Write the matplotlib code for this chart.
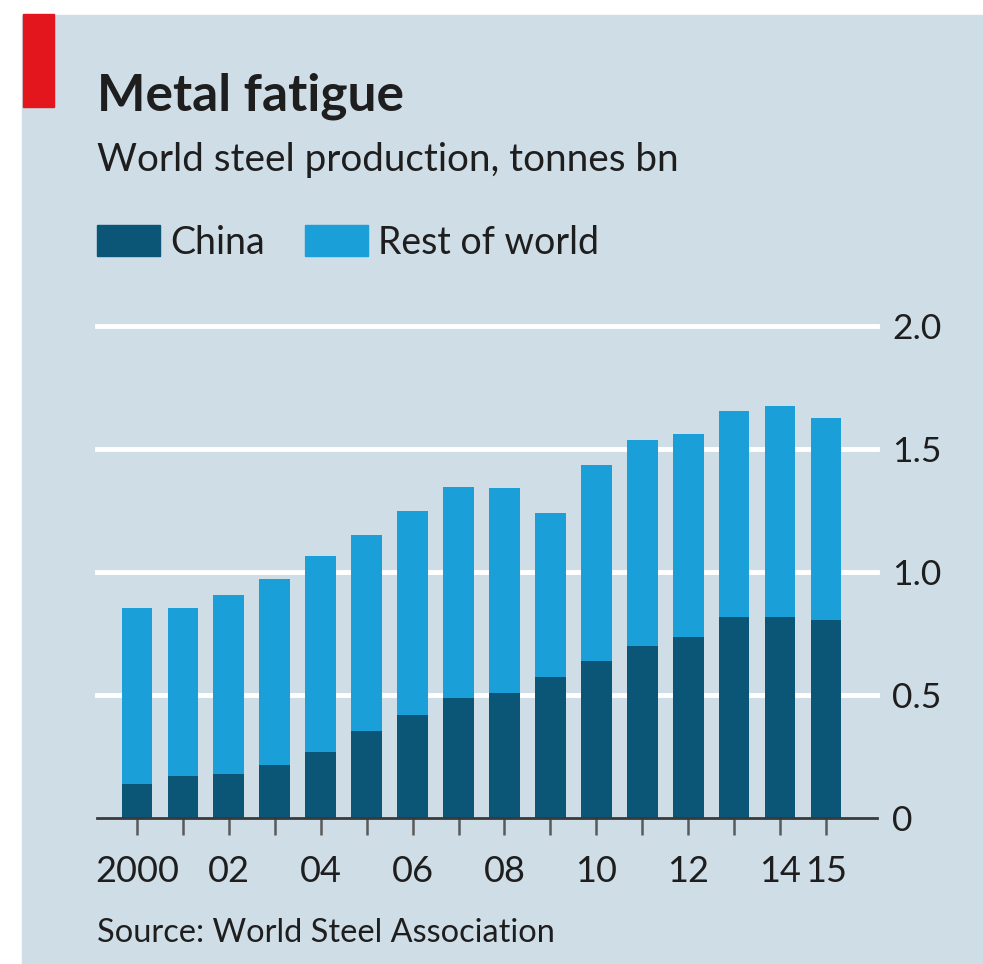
import matplotlib
matplotlib.use("Agg")
import matplotlib.pyplot as plt
from matplotlib.patches import Rectangle

# World steel production, tonnes bn
years = list(range(2000, 2016))
china = [0.138, 0.171, 0.179, 0.215, 0.268, 0.354, 0.419, 0.488,
         0.508, 0.573, 0.638, 0.699, 0.736, 0.817, 0.817, 0.805]
world = [0.854, 0.854, 0.907, 0.972, 1.065, 1.150, 1.248, 1.346,
         1.341, 1.240, 1.435, 1.537, 1.561, 1.654, 1.675, 1.626]
rest = [w - c for w, c in zip(world, china)]
year_labels = {2000: "2000", 2002: "02", 2004: "04", 2006: "06", 2008: "08",
               2010: "10", 2012: "12", 2014: "14", 2015: "15"}
yticks = [0, 0.5, 1.0, 1.5, 2.0]
ytick_labels = ["0", "0.5", "1.0", "1.5", "2.0"]

BG = "#cfdde6"
DARK = "#0b5577"
LIGHT = "#1b9fd9"
TXT = "#1e1e1e"
FONT = ["Lato", "DejaVu Sans"]

W, H = 983, 964
fig = plt.figure(figsize=(W / 100, H / 100), dpi=100)
fig.patch.set_facecolor("white")

# panel and red marker
fig.patches.append(Rectangle((22 / W, 0), 1 - 22 / W, 1 - 15 / H,
                             transform=fig.transFigure, color=BG, zorder=0))
fig.patches.append(Rectangle((23 / W, 1 - 107 / H), 31 / W, 93 / H,
                             transform=fig.transFigure, color="#e3161e", zorder=1))

fig.text(97 / W, 1 - 96 / H, "Metal fatigue", fontsize=37, fontweight="bold",
         color=TXT, family=FONT, va="center", ha="left")
fig.text(97 / W, 1 - 160 / H, "World steel production, tonnes bn", fontsize=27.8,
         color=TXT, family=FONT, va="center", ha="left")

# legend
fig.patches.append(Rectangle((97 / W, 1 - 256 / H), 63 / W, 31 / H,
                             transform=fig.transFigure, color=DARK, zorder=1))
fig.text(170 / W, 1 - 243 / H, "China", fontsize=27, color=TXT, family=FONT,
         va="center", ha="left")
fig.patches.append(Rectangle((305 / W, 1 - 256 / H), 63 / W, 31 / H,
                             transform=fig.transFigure, color=LIGHT, zorder=1))
fig.text(378 / W, 1 - 243 / H, "Rest of world", fontsize=27, color=TXT, family=FONT,
         va="center", ha="left")

fig.text(97 / W, 1 - 933 / H, "Source: World Steel Association", fontsize=23.4,
         color=TXT, family=FONT, va="center", ha="left")

# plot area: x=2000 at 137px, 45.93px per year; y=0 at 818px, 2.0 at 326px
ax = fig.add_axes([97 / W, 1 - 818 / H, 780 / W, 492 / H])
ax.set_zorder(3)
ax.set_facecolor("none")
ax.set_xlim(2000 - 40 / 45.93, 2000 + 740 / 45.93)
ax.set_ylim(0, 2.0)
for s in ax.spines.values():
    s.set_visible(False)

for v in yticks[1:]:
    ax.axhline(v, color="white", lw=3.5, zorder=1, clip_on=False)
ax.axhline(0, color="#3a3a3a", lw=2, zorder=3, clip_on=False)

ax.bar(years, china, width=0.67, color=DARK, zorder=2)
ax.bar(years, rest, width=0.67, bottom=china, color=LIGHT, zorder=2)

ax.set_xticks(years)
ax.set_xticklabels([year_labels.get(y, "") for y in years], fontsize=26,
                   color=TXT, family=FONT)
ax.tick_params(axis="x", length=12, width=1.8, color="#5a5a5a", pad=15)

ax.yaxis.tick_right()
ax.set_yticks(yticks)
ax.set_yticklabels(ytick_labels, fontsize=25.5, color=TXT, family=FONT)
ax.tick_params(axis="y", length=0, pad=11)

fig.savefig("out.png", dpi=100, facecolor=fig.get_facecolor())
